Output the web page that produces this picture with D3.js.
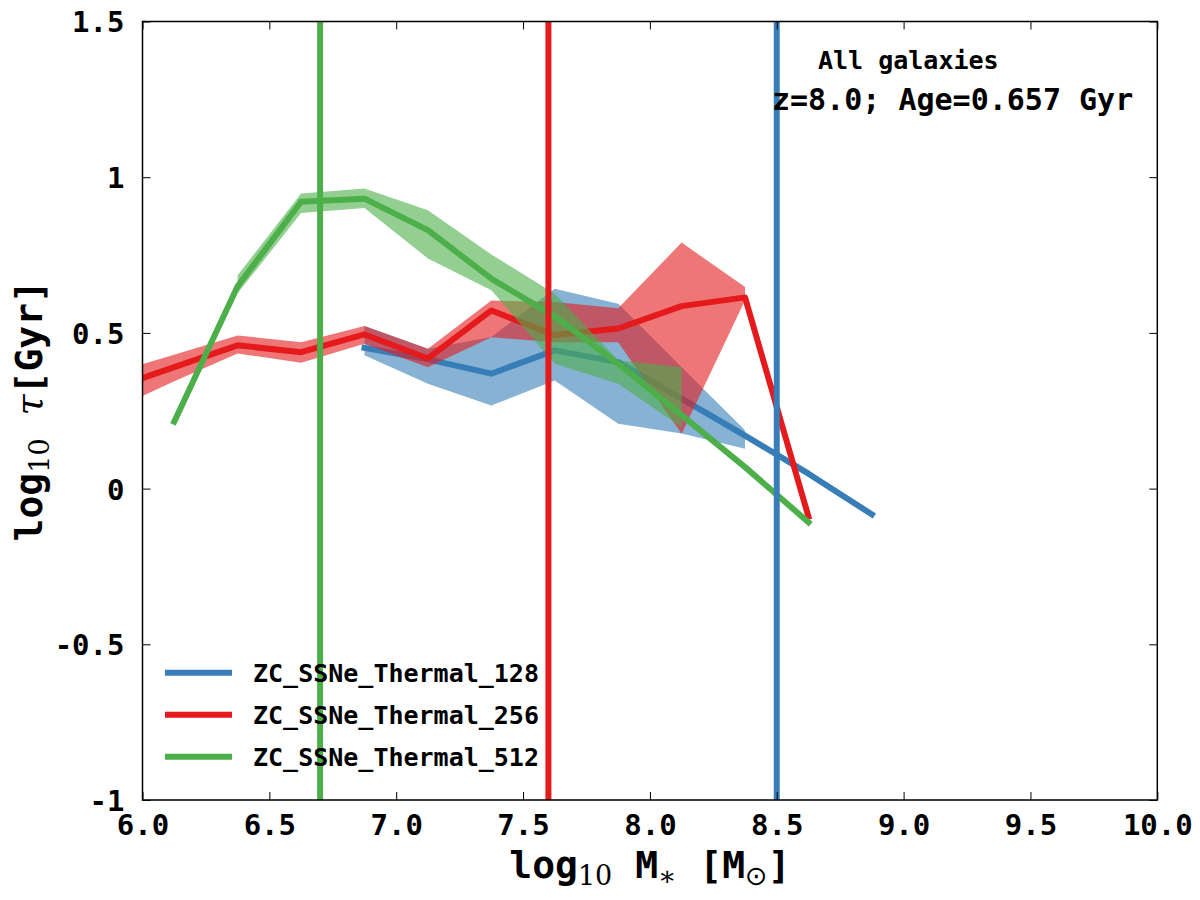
<!DOCTYPE html>
<html>
<head>
<meta charset="utf-8">
<script src="https://cdn.jsdelivr.net/npm/d3@7"></script>
<style>
  body { margin: 0; background: #fff; }
  text { font-family: "DejaVu Sans Mono", monospace; font-weight: bold; }
</style>
</head>
<body>
<svg id="chart"></svg>
<script>
// stellar mass bins (log10 M*) and log10 tau per run
const bins128 = [6.875, 7.125, 7.375, 7.625, 7.875, 8.125, 8.375, 8.625, 8.875];
const tau128 = [0.452, 0.415, 0.369, 0.444, 0.406, 0.289, 0.170, 0.048, -0.083];
const tau128Lo = [0.428, 0.337, 0.267, 0.347, 0.208, 0.177, 0.128, null, null];
const tau128Hi = [0.522, 0.449, 0.487, 0.642, 0.594, 0.390, 0.187, null, null];

const bins256 = [5.875, 6.125, 6.375, 6.625, 6.875, 7.125, 7.375, 7.625, 7.875, 8.125, 8.375, 8.625];
const tau256 = [0.320, 0.390, 0.460, 0.438, 0.495, 0.418, 0.572, 0.493, 0.514, 0.586, 0.614, -0.090];
const tau256Lo = [0.250, 0.345, 0.434, 0.404, 0.465, 0.390, 0.486, 0.470, 0.470, 0.176, 0.605, null];
const tau256Hi = [0.370, 0.430, 0.492, 0.470, 0.522, 0.449, 0.604, 0.599, 0.579, 0.790, 0.647, null];

const bins512 = [6.125, 6.375, 6.625, 6.875, 7.125, 7.375, 7.625, 7.875, 8.125, 8.375, 8.625];
const tau512 = [0.215, 0.650, 0.921, 0.931, 0.830, 0.674, 0.553, 0.401, 0.236, 0.069, -0.108];
const tau512Lo = [null, 0.627, 0.885, 0.901, 0.739, 0.637, 0.401, 0.337, 0.197, null, null];
const tau512Hi = [null, 0.685, 0.948, 0.964, 0.894, 0.752, 0.626, 0.412, 0.390, null, null];

// resolution limits (vertical lines)
const massLimits = [8.5, 7.6, 6.7];

const seriesNames = ["ZC_SSNe_Thermal_128", "ZC_SSNe_Thermal_256", "ZC_SSNe_Thermal_512"];
const seriesColors = ["#377eb8", "#e41a1c", "#4daf4a"];

const xTicks = [6.0, 6.5, 7.0, 7.5, 8.0, 8.5, 9.0, 9.5, 10.0];
const xTickLabels = ["6.0", "6.5", "7.0", "7.5", "8.0", "8.5", "9.0", "9.5", "10.0"];
const yTicks = [-1, -0.5, 0, 0.5, 1, 1.5];
const yTickLabels = ["-1", "-0.5", "0", "0.5", "1", "1.5"];

const width = 1200, height = 900;
const margin = { top: 21.5, right: 42.7, bottom: 100, left: 142.5 };
const innerW = width - margin.left - margin.right;
const innerH = height - margin.top - margin.bottom;

const runs = [
  { bins: bins128, tau: tau128, lo: tau128Lo, hi: tau128Hi },
  { bins: bins256, tau: tau256, lo: tau256Lo, hi: tau256Hi },
  { bins: bins512, tau: tau512, lo: tau512Lo, hi: tau512Hi }
].map((r, i) => ({
  name: seriesNames[i],
  color: seriesColors[i],
  limit: massLimits[i],
  points: r.bins.map((b, j) => ({ x: b, y: r.tau[j], lo: r.lo[j], hi: r.hi[j] }))
}));

const svg = d3.select("#chart").attr("width", width).attr("height", height);

const xScale = d3.scaleLinear().domain([6, 10]).range([0, innerW]);
const yScale = d3.scaleLinear().domain([-1, 1.5]).range([innerH, 0]);

svg.append("defs").append("clipPath").attr("id", "plot-clip")
  .append("rect").attr("width", innerW).attr("height", innerH);

const g = svg.append("g").attr("transform", `translate(${margin.left},${margin.top})`);
const plot = g.append("g").attr("clip-path", "url(#plot-clip)");

const area = d3.area()
  .defined(d => d.lo !== null)
  .x(d => xScale(d.x))
  .y0(d => yScale(d.lo))
  .y1(d => yScale(d.hi));

const line = d3.line()
  .x(d => xScale(d.x))
  .y(d => yScale(d.y));

runs.forEach(r => {
  plot.append("path")
    .datum(r.points)
    .attr("d", area)
    .attr("fill", r.color)
    .attr("fill-opacity", 0.6);

  plot.append("path")
    .datum(r.points)
    .attr("d", line)
    .attr("fill", "none")
    .attr("stroke", r.color)
    .attr("stroke-width", 6)
    .attr("stroke-linejoin", "round")
    .attr("stroke-linecap", "square");
});

// vertical resolution lines on top
plot.selectAll("line.limit")
  .data(runs)
  .join("line")
  .attr("class", "limit")
  .attr("x1", d => xScale(d.limit))
  .attr("x2", d => xScale(d.limit))
  .attr("y1", 0)
  .attr("y2", innerH)
  .attr("stroke", d => d.color)
  .attr("stroke-width", 6);

// frame
g.append("rect")
  .attr("width", innerW)
  .attr("height", innerH)
  .attr("fill", "none")
  .attr("stroke", "#000")
  .attr("stroke-width", 1.5);

// axes, ticks pointing inwards on all four sides
const xAxis = d3.axisBottom(xScale).tickValues(xTicks)
  .tickFormat((d, i) => xTickLabels[i]).tickSizeInner(-8).tickSizeOuter(0).tickPadding(14);
const yAxis = d3.axisLeft(yScale).tickValues(yTicks)
  .tickFormat((d, i) => yTickLabels[i]).tickSizeInner(-8).tickSizeOuter(0).tickPadding(18);

const gx = g.append("g").attr("transform", `translate(0,${innerH})`).call(xAxis);
const gy = g.append("g").call(yAxis);
g.append("g").call(d3.axisTop(xScale).tickValues(xTicks).tickFormat("").tickSizeInner(-8).tickSizeOuter(0));
g.append("g").attr("transform", `translate(${innerW},0)`)
  .call(d3.axisRight(yScale).tickValues(yTicks).tickFormat("").tickSizeInner(-8).tickSizeOuter(0));

g.selectAll(".domain").remove();
g.selectAll(".tick line").attr("stroke", "#000").attr("stroke-width", 1);
[gx, gy].forEach(a => a.selectAll(".tick text")
  .attr("font-family", "DejaVu Sans Mono")
  .attr("font-weight", "bold")
  .attr("font-size", 29)
  .attr("fill", "#000"));
gx.selectAll(".tick text").attr("dy", "0.71em");
gy.selectAll(".tick text").attr("dy", "0.36em");

// x label: log10 M* [Msun]
const xl = svg.append("text")
  .attr("x", margin.left + innerW / 2)
  .attr("y", 878)
  .attr("text-anchor", "middle")
  .attr("font-size", 38);
xl.append("tspan").text("log");
xl.append("tspan").attr("font-family", "DejaVu Serif").attr("font-weight", "normal")
  .attr("font-size", 27).attr("dy", 7).text("10");
xl.append("tspan").attr("dy", -7).text(" M");
xl.append("tspan").attr("font-family", "DejaVu Serif").attr("font-weight", "normal")
  .attr("font-size", 27).attr("dy", 7).text("\u2217");
xl.append("tspan").attr("dy", -7).text(" [M");
xl.append("tspan").attr("font-family", "DejaVu Sans").attr("font-weight", "normal")
  .attr("font-size", 27).attr("dy", 7).text("\u2299");
xl.append("tspan").attr("dy", -7).text("]");

// y label: log10 tau [Gyr]
const yl = svg.append("text")
  .attr("transform", `translate(42,${margin.top + innerH / 2}) rotate(-90)`)
  .attr("text-anchor", "middle")
  .attr("font-size", 38);
yl.append("tspan").text("log");
yl.append("tspan").attr("font-family", "DejaVu Serif").attr("font-weight", "normal")
  .attr("font-size", 27).attr("dy", 7).text("10");
yl.append("tspan").attr("dy", -7).text(" ");
yl.append("tspan").attr("font-family", "DejaVu Serif").attr("font-style", "italic")
  .attr("font-weight", "normal").text(" \u03c4");
yl.append("tspan").text("[Gyr]");

// annotations
svg.append("text").attr("x", 818).attr("y", 69).attr("font-size", 25).text("All galaxies");
svg.append("text").attr("x", 772).attr("y", 110).attr("font-size", 30).text("z=8.0; Age=0.657 Gyr");

// legend
const legend = g.append("g").attr("transform", `translate(${165 - margin.left},${672.7 - margin.top})`);
const items = legend.selectAll("g")
  .data(runs)
  .join("g")
  .attr("transform", (d, i) => `translate(0,${i * 42})`);
items.append("line")
  .attr("x1", 0).attr("x2", 67)
  .attr("stroke", d => d.color)
  .attr("stroke-width", 6);
items.append("text")
  .attr("x", 88)
  .attr("dy", "0.36em")
  .attr("font-size", 25)
  .text(d => d.name);
</script>
</body>
</html>
